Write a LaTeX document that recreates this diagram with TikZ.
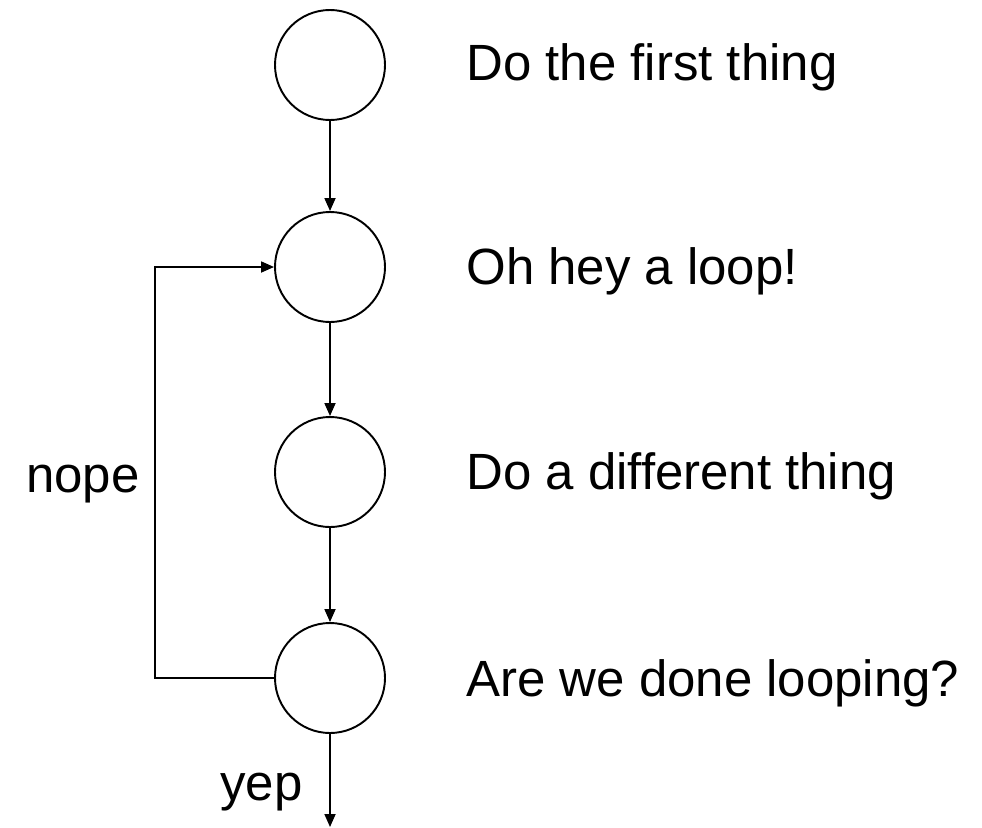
\documentclass[tikz,border=0pt]{standalone}
\usepackage{fontspec}
\setmainfont{Liberation Sans}
\usetikzlibrary{arrows.meta}

\tikzset{
  state/.style={draw, circle, line width=1.1pt, minimum size=2.2cm, inner sep=0pt},
  flow/.style={line width=1pt, -{Triangle[length=0.26cm, width=0.22cm]}},
  caption/.style={font=\fontsize{29}{34}\selectfont, inner sep=0pt}
}

\begin{document}
\begin{tikzpicture}

	\useasboundingbox (0,0) rectangle (19.64,-16.54);

	%the four steps
	\node[state] (first) at (6.6,-1.3) {};
	\node[state] (loop) at (6.6,-5.34) {};
	\node[state] (other) at (6.6,-9.44) {};
	\node[state] (done) at (6.6,-13.56) {};

	\node[caption, anchor=base west] (tfirst) at (9.32,-1.6) {Do the first thing};
	\node[caption, anchor=base west] (tloop) at (9.32,-5.68) {Oh hey a loop!};
	\node[caption, anchor=base west] (tother) at (9.32,-9.78) {Do a different thing};
	\node[caption, anchor=base west] (tdone) at (9.32,-13.92) {Are we done looping?};

	\draw[flow] (first) -- (loop);
	\draw[flow] (loop) -- (other);
	\draw[flow] (other) -- (done);

	%back to the top of the loop
	\coordinate (back) at (3.1,0);
	\draw[flow] (done.west) -| (back |- done) |- (loop.west);
	\node[caption, anchor=base east] (nope) at (2.8,-9.84) {nope};

	%way out
	\coordinate (out) at (6.6,-16.54);
	\draw[flow] (done) -- (out);
	\node[caption, anchor=base east] (yep) at (6.06,-16.0) {yep};

\end{tikzpicture}
\end{document}
